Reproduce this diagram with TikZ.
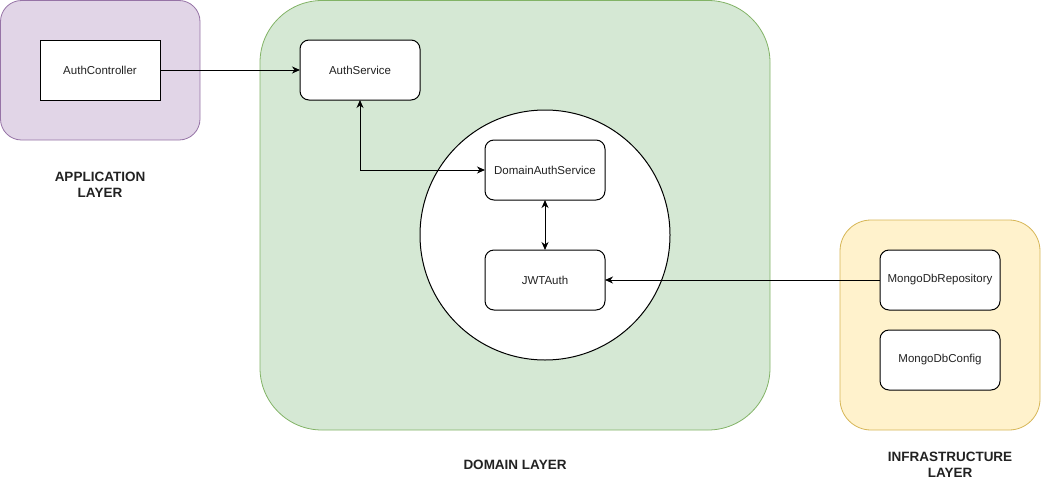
\documentclass[tikz,border=0pt]{standalone}
\usepackage{fontspec}
\setmainfont{Liberation Sans}
\usetikzlibrary{arrows.meta,positioning}
\definecolor{appfill}{HTML}{E1D5E7}
\definecolor{appline}{HTML}{9673A6}
\definecolor{domfill}{HTML}{D5E8D4}
\definecolor{domline}{HTML}{82B366}
\definecolor{inffill}{HTML}{FFF2CC}
\definecolor{infline}{HTML}{D6B656}
\definecolor{txt}{HTML}{222222}
\tikzset{
  layer/.style={draw, line width=0.8pt, inner sep=0pt, outer sep=0pt},
  comp/.style={draw=black, fill=white, line width=1pt, minimum width=120pt, minimum height=60pt, inner sep=0pt, outer sep=0pt, font=\fontsize{11.5}{13}\selectfont, text=txt, rounded corners=9pt},
  sqcomp/.style={comp, rounded corners=0pt},
  lbl/.style={font=\fontsize{13.5}{16.5}\selectfont\bfseries, align=center, text=txt},
  conn/.style={line width=1pt, draw=black, -{Stealth[length=8pt,width=7pt,inset=2.5pt]}},
  bconn/.style={line width=1pt, draw=black, {Stealth[length=8pt,width=7pt,inset=2.5pt]}-{Stealth[length=8pt,width=7pt,inset=2.5pt]}}
}
\begin{document}
\begin{tikzpicture}[x=1pt,y=-1pt]
\useasboundingbox (0,0) rectangle (1041,482);
% layers
\draw[layer, draw=appline, fill=appfill, rounded corners=21pt] (0.5,0.5) rectangle (200,140);
\draw[layer, draw=domline, fill=domfill, rounded corners=62pt] (260,0.5) rectangle (770,430);
\draw[layer, draw=infline, fill=inffill, rounded corners=31pt] (840,220) rectangle (1040,430);
\node[draw=black, fill=white, line width=1pt, circle, minimum size=250pt, inner sep=0pt] (core) at (545,235) {};
% components
\node[sqcomp] (ctrl) at (100,70) {AuthController};
\node[comp] (svc) at (360,70) {AuthService};
\node[comp] (das) at (545,170) {DomainAuthService};
\node[comp] (jwt) at (545,280) {JWTAuth};
\node[comp] (repo) at (940,280) {MongoDbRepository};
\node[comp] (cfg) at (940,360) {MongoDbConfig};
% labels
\node[lbl] (applbl) at (100,185) {APPLICATION\\LAYER};
\node[lbl] (domlbl) at (515,465) {DOMAIN LAYER};
\node[lbl] (inflbl) at (950,465) {INFRASTRUCTURE\\LAYER};
% connectors
\draw[conn] (ctrl.east) -- (svc.west);
\draw[bconn] (svc.south) |- (das.west);
\draw[bconn] (das.south) -- (jwt.north);
\draw[conn] (repo.west) -- (jwt.east);
\end{tikzpicture}
\end{document}
